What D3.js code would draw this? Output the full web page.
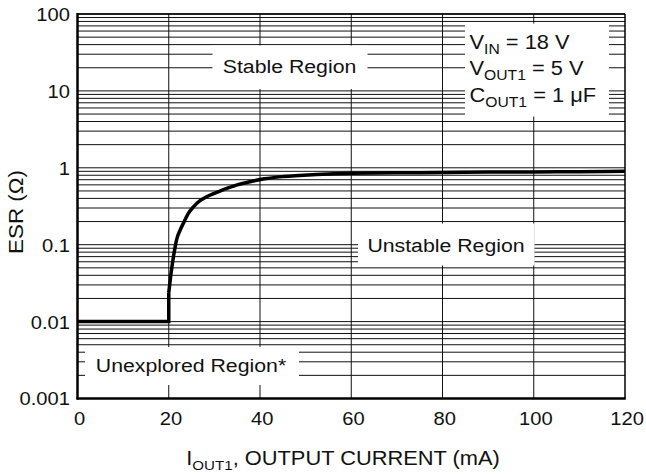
<!DOCTYPE html>
<html>
<head>
<meta charset="utf-8">
<script src="https://cdn.jsdelivr.net/npm/d3@7"></script>
<style>
  html, body { margin: 0; padding: 0; background: #fff; }
  svg { display: block; font-family: "Liberation Sans", Arial, Helvetica, sans-serif; }
</style>
</head>
<body>
<svg id="chart" width="646" height="474"></svg>
<script>
// ESR stability boundary vs. output current
const currentMA = [0, 20, 20, 20.4, 20.6, 21.15, 21.7, 22.5, 23.2, 24.3, 25.4, 26.85, 28.3, 32, 35, 37.8, 41, 45.1, 52.4, 60, 70, 80, 90, 100, 110, 120];
const esrOhm    = [0.01, 0.01, 0.0237, 0.038, 0.047, 0.077, 0.115, 0.155, 0.19, 0.256, 0.31, 0.373, 0.42, 0.52, 0.6, 0.66, 0.72, 0.77, 0.82, 0.85, 0.86, 0.87, 0.88, 0.885, 0.89, 0.9];

const xTicks = [0, 20, 40, 60, 80, 100, 120];
const yTicks = [0.001, 0.01, 0.1, 1, 10, 100];
const yTickLabels = ["0.001", "0.01", "0.1", "1", "10", "100"];

const svg = d3.select("#chart");
const plotL = 77.5, plotR = 625, plotT = 14, plotB = 398.5;
const SX = 1.12; // horizontal widening of the lettering

const x = d3.scaleLinear().domain([0, 120]).range([plotL, plotR]);
const y = d3.scaleLog().domain([0.001, 100]).range([plotB, plotT]);

// minor + major horizontal grid values (1..9 per decade)
const gridY = [];
for (let e = -3; e <= 1; e++) for (let k = 1; k <= 9; k++) gridY.push(k * Math.pow(10, e));
gridY.push(100);

const grid = svg.append("g");
grid.selectAll("line.h").data(gridY).join("line")
  .attr("class", "h")
  .attr("x1", plotL).attr("x2", plotR)
  .attr("y1", d => y(d)).attr("y2", d => y(d))
  .attr("stroke", "#111").attr("stroke-width", 1);
grid.selectAll("line.v").data(xTicks.slice(1, -1)).join("line")
  .attr("class", "v")
  .attr("x1", d => x(d)).attr("x2", d => x(d))
  .attr("y1", plotT).attr("y2", plotB)
  .attr("stroke", "#111").attr("stroke-width", 1);

// frame
svg.append("line").attr("x1", plotL).attr("x2", plotR).attr("y1", plotT).attr("y2", plotT).attr("stroke", "#000").attr("stroke-width", 1.5);
svg.append("line").attr("x1", plotR).attr("x2", plotR).attr("y1", plotT).attr("y2", plotB).attr("stroke", "#000").attr("stroke-width", 1.5);
svg.append("line").attr("x1", plotL).attr("x2", plotL).attr("y1", plotT - 1).attr("y2", plotB + 1).attr("stroke", "#000").attr("stroke-width", 2.5);
svg.append("line").attr("x1", plotL - 1).attr("x2", plotR + 0.75).attr("y1", plotB).attr("y2", plotB).attr("stroke", "#000").attr("stroke-width", 2.5);

// white label panels over the grid
const panels = [
  { x0: 212.5, x1: 367.5, y0: 45.5, y1: 89 },
  { x0: 465, x1: 609, y0: 23.5, y1: 116.5 },
  { x0: 358, x1: 534.5, y0: 223.5, y1: 265.5 },
  { x0: 85, x1: 299, y0: 347, y1: 385 }
];
svg.append("g").selectAll("rect").data(panels).join("rect")
  .attr("x", d => d.x0).attr("y", d => d.y0)
  .attr("width", d => d.x1 - d.x0).attr("height", d => d.y1 - d.y0)
  .attr("fill", "#fff");

// boundary curve: flat + vertical step, then smooth rise
const pts = currentMA.map((c, i) => [c, esrOhm[i]]);
const lineLin = d3.line().x(d => x(d[0])).y(d => y(d[1]));
const lineSmooth = d3.line().x(d => x(d[0])).y(d => y(d[1])).curve(d3.curveMonotoneX);
svg.append("path").attr("d", lineLin(pts.slice(0, 3)))
  .attr("fill", "none").attr("stroke", "#000").attr("stroke-width", 3.5).attr("stroke-linejoin", "miter");
svg.append("path").attr("d", lineSmooth(pts.slice(2)))
  .attr("fill", "none").attr("stroke", "#000").attr("stroke-width", 3.5).attr("stroke-linecap", "butt");

// tick labels
const tickFs = 18;
const yAxis = d3.axisLeft(y).tickValues(yTicks).tickSize(0).tickPadding(6.7)
  .tickFormat((d, i) => yTickLabels[i]);
const gy = svg.append("g").attr("transform", `translate(${plotL},0)`).call(yAxis);
gy.select(".domain").remove();
gy.attr("font-family", null).attr("font-size", null);
gy.selectAll("text").attr("font-size", tickFs).attr("fill", "#111").attr("dy", "0.36em")
  .attr("transform", `scale(${SX},1)`);

const xAxis = d3.axisBottom(x).tickValues(xTicks).tickSize(0).tickPadding(14);
const gx = svg.append("g").attr("transform", `translate(0,${plotB})`).call(xAxis);
gx.select(".domain").remove();
gx.attr("font-family", null).attr("font-size", null);
gx.selectAll("text").attr("font-size", tickFs).attr("fill", "#111").attr("dy", "0.71em").attr("dx", 1.5)
  .attr("transform", `scale(${SX},1)`);

// widened text placed at (X, Y)
function label(X, Y, anchor, size, extra) {
  const g = svg.append("g").attr("transform", `translate(${X},${Y}) ${extra || ""} scale(${SX},1)`);
  return g.append("text").attr("text-anchor", anchor).attr("font-size", size).attr("fill", "#111");
}

// region labels
const labelFs = 19;
label(289.5, 72.5, "middle", labelFs).text("Stable Region");
label(446, 251.5, "middle", labelFs).text("Unstable Region");
label(191, 371.5, "middle", labelFs).text("Unexplored Region*");

// test conditions
const cond = [
  { main: "V", sub: "IN", rest: " = 18 V", yb: 48.5 },
  { main: "V", sub: "OUT1", rest: " = 5 V", yb: 75 },
  { main: "C", sub: "OUT1", rest: " = 1 μF", yb: 101.5 }
];
cond.forEach(c => {
  const t = label(469.5, c.yb, "start", 19.5);
  t.append("tspan").text(c.main);
  t.append("tspan").attr("font-size", 14).attr("dy", 5).text(c.sub);
  t.append("tspan").attr("dy", -5).text(c.rest);
});

// axis titles
label(22.5, 212, "middle", 20, "rotate(-90)").text("ESR (Ω)");

const xt = label(343, 465, "middle", 19.5);
xt.append("tspan").text("I");
xt.append("tspan").attr("font-size", 13.5).attr("dy", 5).text("OUT1");
xt.append("tspan").attr("dy", -5).text(", OUTPUT CURRENT (mA)");
</script>
</body>
</html>
